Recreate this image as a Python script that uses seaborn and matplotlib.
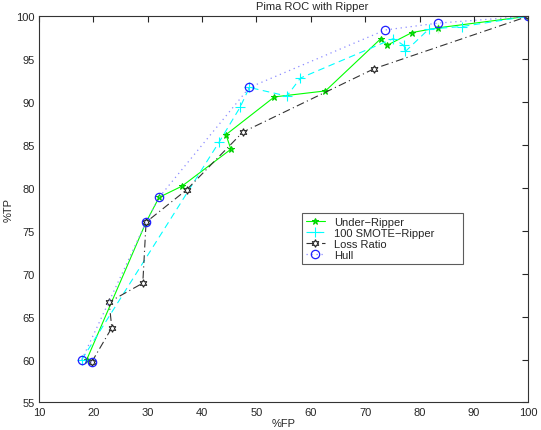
import matplotlib
matplotlib.use("Agg")
import matplotlib.pyplot as plt
import seaborn as sns

# values (%FP, %TP)
under_fp = [18.8, 29.7, 32.1, 36.3, 45.3, 44.4, 53.3, 62.7, 72.9, 74.0, 78.6, 83.4, 83.4, 100]
under_tp = [60.0, 76.0, 78.9, 80.2, 84.5, 86.2, 90.6, 91.3, 97.4, 96.6, 98.1, 99.2, 98.1, 100]

smote_fp = [17.9, 43.2, 47.0, 48.7, 55.6, 58.1, 75.2, 77.1, 77.4, 81.7, 87.8, 100]
smote_tp = [60.0, 85.4, 89.4, 91.7, 90.7, 92.8, 97.4, 96.6, 95.9, 98.5, 98.8, 100]

loss_fp = [19.7, 23.4, 22.9, 29.1, 29.7, 37.2, 47.5, 71.7, 100]
loss_tp = [59.7, 63.7, 66.7, 68.9, 76.0, 79.8, 86.5, 93.9, 100]

hull_fp = [19.7, 17.9, 29.7, 32.1, 48.7, 73.7, 83.4, 100]
hull_tp = [59.7, 60.0, 76.0, 78.9, 91.7, 98.4, 99.2, 100]

x_ticks = list(range(10, 101, 10))
y_ticks = list(range(55, 101, 5))

sns.set_style("white")
plt.rcParams['font.family'] = ['Liberation Sans', 'DejaVu Sans']

fig = plt.figure(figsize=(5.41, 4.31), dpi=100)
ax = fig.add_axes([0.072, 0.064, 0.9045, 0.896])

sns.lineplot(x=under_fp, y=under_tp, sort=False, ax=ax, color='#00ff00', linewidth=0.8,
             marker='*', markersize=5, markeredgecolor='#00cc00', markerfacecolor='#00ff00',
             label='Under\u2212Ripper')
sns.lineplot(x=smote_fp, y=smote_tp, sort=False, ax=ax, color='#00ffff', linewidth=0.8,
             linestyle=(0, (6, 4)), marker='+', markersize=7, markeredgecolor='#00ffff',
             markeredgewidth=0.8, label='100 SMOTE\u2212Ripper')
sns.lineplot(x=loss_fp, y=loss_tp, sort=False, ax=ax, color='#333333', linewidth=0.8,
             linestyle=(0, (7, 3, 1, 3)), marker=(6, 1, 0), markersize=5.5,
             markeredgecolor='#222222', markerfacecolor='white', markeredgewidth=0.8,
             label='Loss Ratio')
sns.lineplot(x=hull_fp, y=hull_tp, sort=False, ax=ax, color='#8c8cff', linewidth=0.9,
             linestyle=(0, (1, 3)), marker='o', markersize=6, markeredgecolor='#2020ff',
             markerfacecolor='none', markeredgewidth=0.9, label='Hull')

ax.set_xlim(10, 100)
ax.set_ylim(55, 100)
ax.set_xticks(x_ticks)
ax.set_yticks(y_ticks)
ax.tick_params(direction='in', top=True, right=True, length=4, labelsize=8, pad=3)
for side in ax.spines.values():
    side.set_color('#333333')
    side.set_linewidth(0.8)

ax.set_title('Pima ROC with Ripper', fontsize=8, pad=5, x=0.558)
ax.set_xlabel('%FP', fontsize=8, labelpad=1)
ax.set_ylabel('%TP', fontsize=8, labelpad=2)

leg = ax.legend(loc='upper left', bbox_to_anchor=(0.5375, 0.351, 0.3285, 0.1395),
                mode='expand', borderaxespad=0, fontsize=8, frameon=True, fancybox=False,
                edgecolor='#333333', handlelength=1.7, borderpad=0.35, labelspacing=0.1,
                handletextpad=0.8)
leg.get_frame().set_linewidth(0.8)

fig.savefig('out.png', dpi=100)
